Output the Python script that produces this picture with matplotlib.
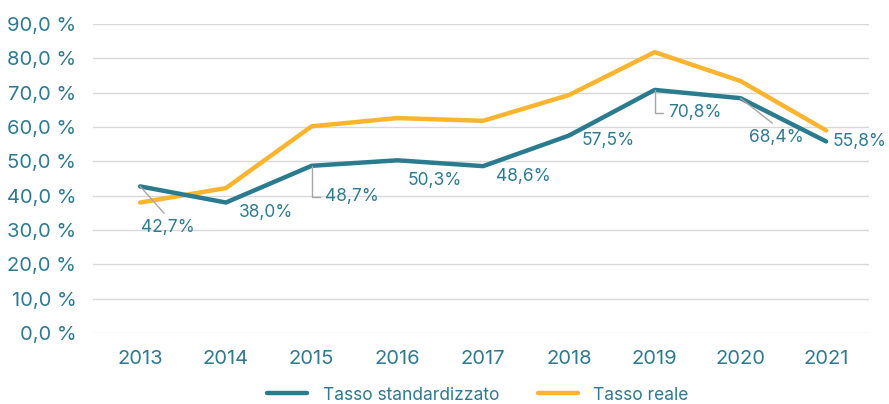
import matplotlib
matplotlib.use("Agg")
import matplotlib.pyplot as plt
from matplotlib.ticker import FuncFormatter

years = ["2013", "2014", "2015", "2016", "2017", "2018", "2019", "2020", "2021"]
standardizzato = [42.7, 38.0, 48.7, 50.3, 48.6, 57.5, 70.8, 68.4, 55.8]
reale = [38.0, 42.2, 60.2, 62.6, 61.8, 69.3, 81.8, 73.4, 59.0]
labels = ["42,7%", "38,0%", "48,7%", "50,3%", "48,6%", "57,5%", "70,8%", "68,4%", "55,8%"]
# label offsets in pixels (dx, dy) and leader style
offsets = [(28, -41), (40, -10), (40, -31), (37, -20), (40, -10), (39, -5), (40, -23), (36, -39), (33, 0)]
leaders = ["diag", None, "elbow", None, None, None, "elbow", "diag", None]

BLUE = "#2B7B8E"
YELLOW = "#FBB42E"
TEXT = "#2E7A90"
FONT = ["Inter", "DejaVu Sans"]
plt.rcParams["font.family"] = FONT

fig = plt.figure(figsize=(8.89, 4.04), dpi=100)
ax = fig.add_axes([93 / 889, 1 - 333 / 404, (869 - 93) / 889, (333 - 24) / 404 * 1.0])

x = list(range(len(years)))
ax.plot(x, reale, color=YELLOW, lw=3.2, solid_capstyle="round", zorder=3, label="Tasso reale")
ax.plot(x, standardizzato, color=BLUE, lw=3.2, solid_capstyle="round", zorder=4, label="Tasso standardizzato")

ax.set_ylim(0, 90)
ax.set_xlim(-0.55, len(years) - 0.5)
ax.set_yticks(range(0, 91, 10))
ax.yaxis.set_major_formatter(FuncFormatter(lambda v, p: f"{v:.1f}".replace(".", ",") + " %"))
ax.set_xticks(x)
ax.set_xticklabels(years)
ax.grid(axis="y", color="#D9D9D9", lw=1)
ax.set_axisbelow(True)
for s in ax.spines.values():
    s.set_visible(False)
ax.tick_params(axis="both", length=0, labelsize=14.5, colors=TEXT)
ax.tick_params(axis="y", pad=12)
ax.tick_params(axis="x", pad=12)

for i, (v, lab, off, ld) in enumerate(zip(standardizzato, labels, offsets, leaders)):
    ax.annotate(lab, xy=(i, v), xytext=off, textcoords="offset pixels",
                ha="center", va="center", fontsize=12.5, color=TEXT, zorder=6)
    if ld == "diag":
        ax.annotate("", xy=(i, v), xytext=(off[0] - 4, off[1] + 14), textcoords="offset pixels",
                    arrowprops=dict(arrowstyle="-", color="#A6A6A6", lw=1, shrinkA=0, shrinkB=0), zorder=5)
    elif ld == "elbow":
        ax.annotate("", xy=(i, v), xytext=(off[0] - 32, off[1]), textcoords="offset pixels",
                    arrowprops=dict(arrowstyle="-", color="#A6A6A6", lw=1, shrinkA=0, shrinkB=0,
                                    connectionstyle="angle,angleA=0,angleB=90,rad=0"), zorder=5)

handles, labs = ax.get_legend_handles_labels()
leg = fig.legend([handles[1], handles[0]], [labs[1], labs[0]], loc="center", bbox_to_anchor=(478 / 889, 1 - 395 / 404),
                 ncol=2, frameon=False, fontsize=12.5, handlelength=2.3, columnspacing=2.2, handletextpad=0.9)
for t in leg.get_texts():
    t.set_color(TEXT)

fig.savefig("out.png", dpi=100)
